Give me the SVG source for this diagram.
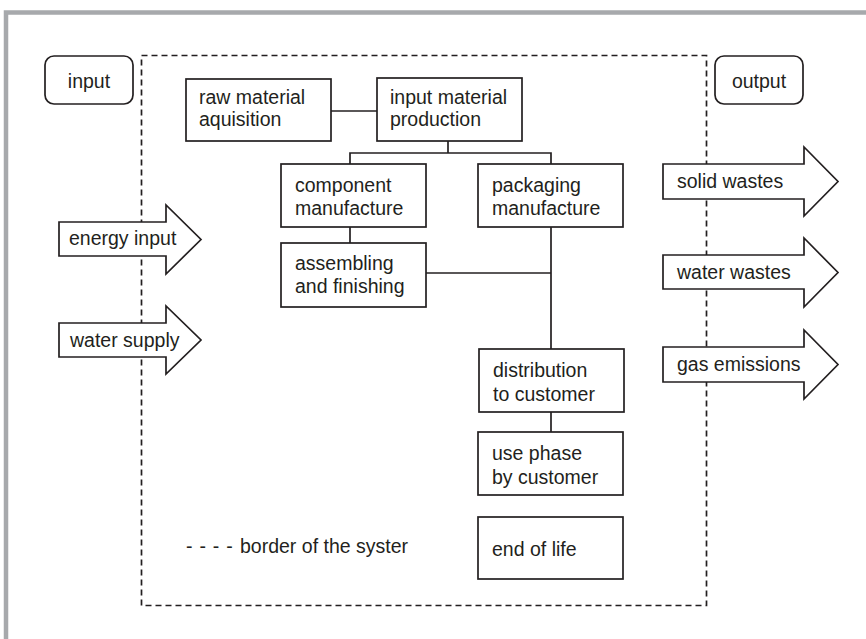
<svg xmlns="http://www.w3.org/2000/svg" width="866" height="639" viewBox="0 0 866 639">
<style>
  text { font-family: "Liberation Sans", Arial, sans-serif; font-size: 19.5px; fill: #231f20; }
  .box { fill: #ffffff; stroke: #231f20; stroke-width: 1.7; }
  .arrow { fill: #ffffff; stroke: #231f20; stroke-width: 1.7; stroke-linejoin: miter; }
  .conn { stroke: #231f20; stroke-width: 1.7; fill: none; }
  .border { fill: none; stroke: #231f20; stroke-width: 1.7; stroke-dasharray: 6 4; }
  .mid { text-anchor: middle; }
</style>
<rect x="0" y="0" width="866" height="639" fill="#ffffff"/>
<path d="M6,639 V12.5 H866" fill="none" stroke="#a7a9ac" stroke-width="4.5"/>

<rect id="system-border" class="border" x="141.5" y="55.5" width="565" height="550"/>

<g id="connectors">
  <line class="conn" x1="331" y1="111" x2="377" y2="111"/>
  <polyline class="conn" points="448,141 448,153"/>
  <polyline class="conn" points="350,164 350,153 551,153 551,164"/>
  <line class="conn" x1="350" y1="227" x2="350" y2="243"/>
  <line class="conn" x1="551" y1="227" x2="551" y2="349"/>
  <line class="conn" x1="426" y1="273" x2="551" y2="273"/>
  <line class="conn" x1="551" y1="412" x2="551" y2="432"/>
</g>

<g id="input-label">
  <rect class="box" x="45" y="56" width="88" height="48" rx="9"/>
  <text class="mid" x="89" y="88">input</text>
</g>
<g id="output-label">
  <rect class="box" x="715" y="56" width="88" height="48" rx="9"/>
  <text class="mid" x="759" y="88">output</text>
</g>

<g id="raw-material">
  <rect class="box" x="186" y="79" width="145" height="62"/>
  <text x="199" y="104">raw material</text>
  <text x="199" y="126">aquisition</text>
</g>
<g id="input-material">
  <rect class="box" x="377" y="78" width="145" height="63"/>
  <text x="390" y="104">input material</text>
  <text x="390" y="126">production</text>
</g>
<g id="component">
  <rect class="box" x="281" y="164" width="145" height="63"/>
  <text x="295" y="192">component</text>
  <text x="295" y="215">manufacture</text>
</g>
<g id="packaging">
  <rect class="box" x="478" y="164" width="145" height="63"/>
  <text x="492" y="192">packaging</text>
  <text x="492" y="215">manufacture</text>
</g>
<g id="assembling">
  <rect class="box" x="281" y="243" width="145" height="64"/>
  <text x="295" y="270">assembling</text>
  <text x="295" y="293">and finishing</text>
</g>
<g id="distribution">
  <rect class="box" x="479" y="349" width="145" height="63"/>
  <text x="493" y="377">distribution</text>
  <text x="493" y="401">to customer</text>
</g>
<g id="use-phase">
  <rect class="box" x="478" y="432" width="145" height="63"/>
  <text x="492" y="460">use phase</text>
  <text x="492" y="484">by customer</text>
</g>
<g id="end-of-life">
  <rect class="box" x="478" y="517" width="145" height="62"/>
  <text x="492" y="556">end of life</text>
</g>

<g id="energy-input">
  <polygon class="arrow" points="59,222 166,222 166,205 201,239.5 166,274 166,256 59,256"/>
  <text x="69" y="245">energy input</text>
</g>
<g id="water-supply">
  <polygon class="arrow" points="59,323 166,323 166,306 201,340 166,374 166,357 59,357"/>
  <text x="70" y="347">water supply</text>
</g>
<g id="solid-wastes">
  <polygon class="arrow" points="663,164 804,164 804,147 838,181.5 804,216 804,199 663,199"/>
  <text x="677" y="188">solid wastes</text>
</g>
<g id="water-wastes">
  <polygon class="arrow" points="663,255 804,255 804,238 838,272.5 804,307 804,289 663,289"/>
  <text x="677" y="279">water wastes</text>
</g>
<g id="gas-emissions">
  <polygon class="arrow" points="663,347 804,347 804,330 838,364.5 804,399 804,382 663,382"/>
  <text x="677" y="371">gas emissions</text>
</g>

<g id="legend">
  <text x="186" y="553" word-spacing="1.5">- - - -</text>
  <text x="240" y="553">border of the syster</text>
</g>
</svg>
